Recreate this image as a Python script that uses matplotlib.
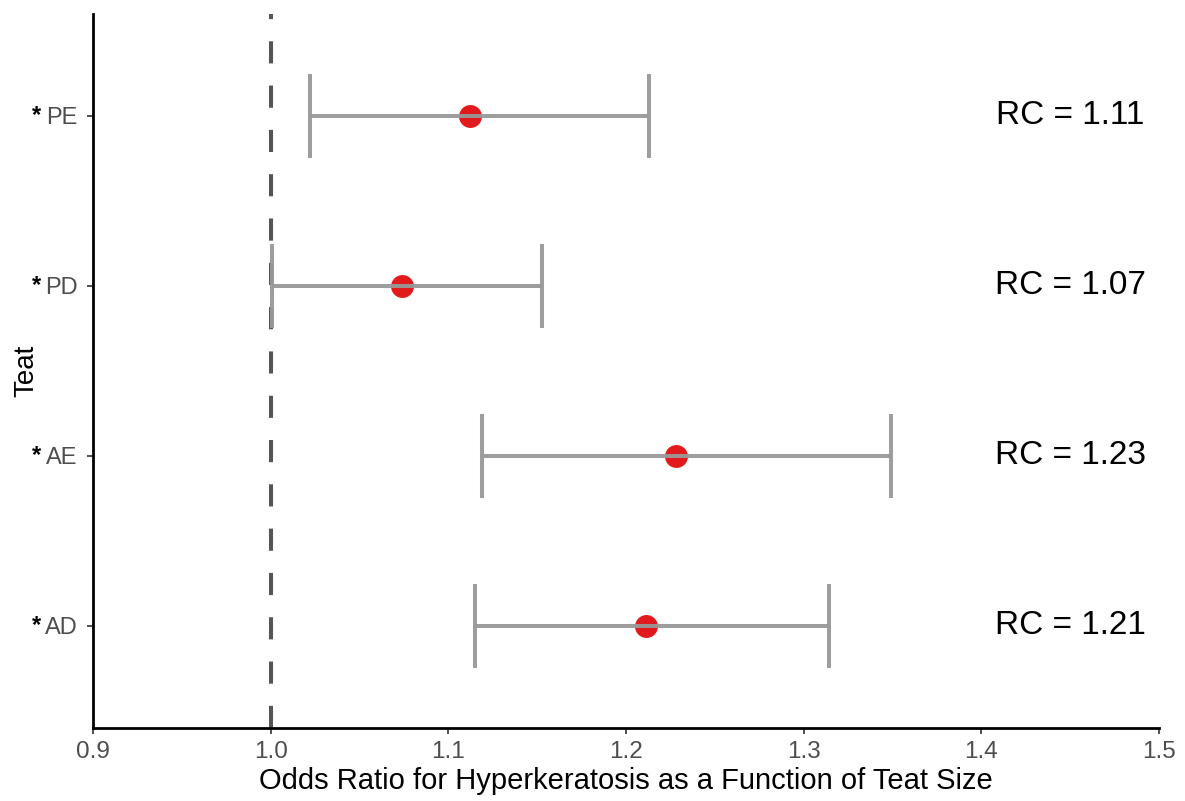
import matplotlib.pyplot as plt
import matplotlib.transforms as mtransforms

plt.rcParams['font.family'] = ['Liberation Sans', 'DejaVu Sans']

teats = ['AD', 'AE', 'PD', 'PE']
odds_ratio = [1.211, 1.228, 1.074, 1.112]
ci_low = [1.115, 1.119, 1.001, 1.022]
ci_high = [1.314, 1.349, 1.153, 1.213]
rc_labels = ['RC = 1.21', 'RC = 1.23', 'RC = 1.07', 'RC = 1.11']

fig = plt.figure(figsize=(11.85, 8.01), dpi=100)
ax = fig.add_axes([93 / 1185, 73 / 801, 1066 / 1185, 714 / 801])

ypos = list(range(1, len(teats) + 1))

ax.axvline(1.0, color='#555555', lw=2.9, dashes=(5.5, 5.5), zorder=1)

ax.plot(odds_ratio, ypos, 'o', color='#e31a1c', ms=16.5, mec='none', zorder=2)

xerr = [[o - l for o, l in zip(odds_ratio, ci_low)],
        [h - o for o, h in zip(odds_ratio, ci_high)]]
ax.errorbar(odds_ratio, ypos, xerr=xerr, fmt='none', ecolor='#999999',
            elinewidth=2.9, capsize=30, capthick=2.9, alpha=0.95, zorder=3)

for y, lab in zip(ypos, rc_labels):
    ax.text(1.45, y, lab, ha='center', va='center', fontsize=24, color='black')

ax.set_xlim(0.9, 1.5)
ax.set_ylim(0.4, 4.6)
ax.set_xticks([0.9, 1.0, 1.1, 1.2, 1.3, 1.4, 1.5])
ax.set_xticklabels(['0.9', '1.0', '1.1', '1.2', '1.3', '1.4', '1.5'])
ax.set_yticks(ypos)
ax.set_yticklabels(teats)

ax.tick_params(axis='both', colors='#333333', length=4, width=1.2,
               labelcolor='#4d4d4d')
ax.tick_params(axis='x', pad=5, labelsize=17.5)
ax.tick_params(axis='y', pad=7, labelsize=17)

# significance markers in front of each teat label
trans = mtransforms.blended_transform_factory(fig.transFigure, ax.transData)
for y in ypos:
    ax.text(37 / 1185, y + 0.005, '*', transform=trans, ha='center', va='center',
            fontsize=17, fontweight='bold', color='black')

for side in ['top', 'right']:
    ax.spines[side].set_visible(False)
for side in ['left', 'bottom']:
    ax.spines[side].set_linewidth(2.0)
    ax.spines[side].set_color('black')

ax.set_xlabel('Odds Ratio for Hyperkeratosis as a Function of Teat Size',
              fontsize=21, labelpad=3)
ax.set_ylabel('Teat', fontsize=20, labelpad=4)

fig.savefig('out.png', dpi=100, facecolor='white')
